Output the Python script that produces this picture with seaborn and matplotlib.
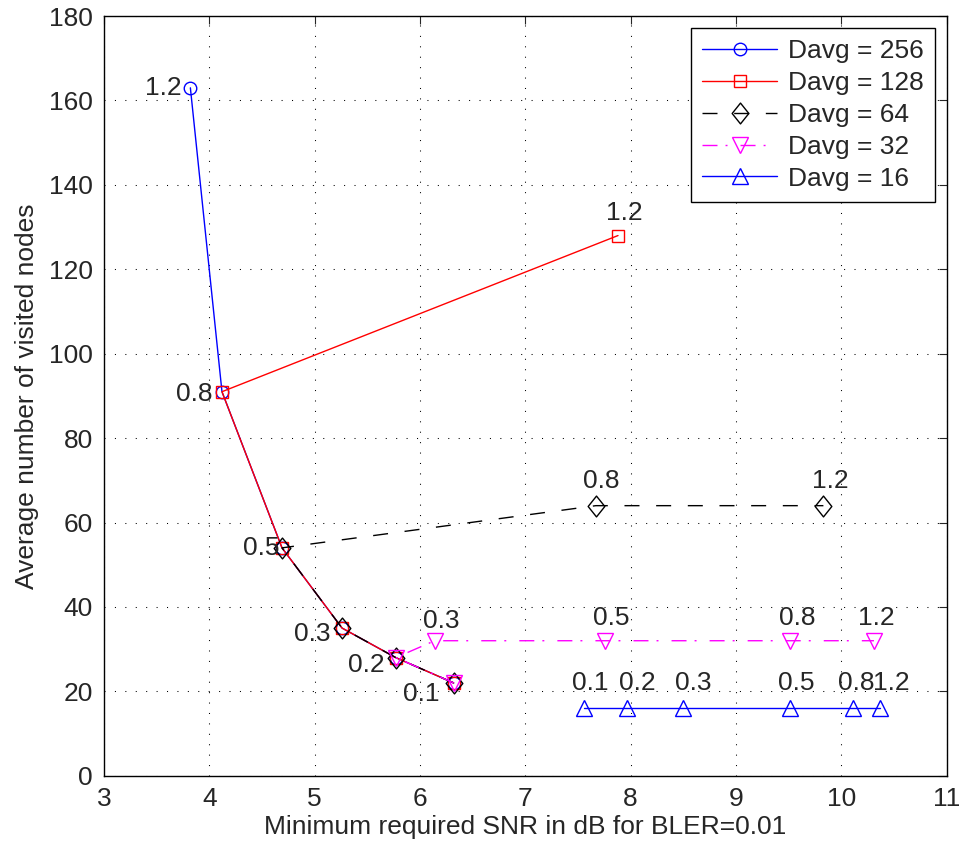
import matplotlib
matplotlib.use("Agg")
import matplotlib.pyplot as plt
import pandas as pd
import seaborn as sns
from matplotlib.path import Path

# ratio labels, shared by the points of every series (0.1 ... 1.2)
ratios = ["0.1", "0.2", "0.3", "0.5", "0.8", "1.2"]

# Minimum required SNR (dB) and average visited nodes per Davg
snr_256 = [6.32, 5.77, 5.26, 4.69, 4.12, 3.82]
nodes_256 = [22, 28, 35, 54, 91, 163]

snr_128 = [6.32, 5.77, 5.26, 4.69, 4.12, 7.88]
nodes_128 = [22, 28, 35, 54, 91, 128]

snr_64 = [6.32, 5.77, 5.26, 4.69, 7.67, 9.83]
nodes_64 = [22, 28, 35, 54, 64, 64]

snr_32 = [6.32, 5.77, 6.14, 7.76, 9.51, 10.31]
nodes_32 = [22, 28, 32, 32, 32, 32]

snr_16 = [7.56, 7.97, 8.50, 9.51, 10.11, 10.37]
nodes_16 = [16, 16, 16, 16, 16, 16]

series_names = ["Davg = 256", "Davg = 128", "Davg = 64", "Davg = 32", "Davg = 16"]

FS = 19

sns.set_style("white")
plt.rcParams['font.family'] = ['Liberation Sans', 'DejaVu Sans']
plt.rcParams['font.size'] = FS

# matlab-like wide diamond
diamond = Path([(0, 1), (0.8, 0), (0, -1), (-0.8, 0), (0, 1)],
               [Path.MOVETO, Path.LINETO, Path.LINETO, Path.LINETO, Path.CLOSEPOLY])

styles = [
    dict(color="#0000ff", marker="o", markersize=9, linestyle="-"),
    dict(color="#ff0000", marker="s", markersize=8.6, linestyle="-"),
    dict(color="#000000", marker=diamond, markersize=15, linestyle=(0, (10.8, 12))),
    dict(color="#ff00ff", marker="v", markersize=12, linestyle=(0, (10.8, 5.8, 1.4, 9.4))),
    dict(color="#0000ff", marker="^", markersize=12, linestyle="-"),
]

xs = [snr_256, snr_128, snr_64, snr_32, snr_16]
ys = [nodes_256, nodes_128, nodes_64, nodes_32, nodes_16]

fig = plt.figure(figsize=(9.63, 8.46), dpi=100)
ax = fig.add_axes([0.108, 0.083, 0.875, 0.898])

for name, x, y, st in zip(series_names, xs, ys, styles):
    df = pd.DataFrame({"snr": x, "nodes": y})
    sns.lineplot(data=df, x="snr", y="nodes", sort=False, estimator=None,
                 ax=ax, label=name, linewidth=1, markerfacecolor="none",
                 markeredgecolor=st["color"], markeredgewidth=1, **st)

# labels on the left of the main curve (from the Davg=256 points)
left_offsets = [(-10, -8), (-8, -5), (-8.6, -4.5), (-2, 0), (-6.5, -2), (-6.5, 0)]
for lab, x, y, off in zip(ratios, snr_256, nodes_256, left_offsets):
    ax.annotate(lab, (x, y), xytext=off, textcoords="offset points",
                ha="right", va="center", fontsize=FS)

# labels above the points that leave the main curve: (series, index, offset in pt)
above = [
    (1, 5, (-9, 16.5)),
    (2, 4, (-9.4, 18)), (2, 5, (-8, 18)),
    (3, 2, (-8.6, 14.5)), (3, 3, (-9, 16.5)), (3, 4, (-8, 16.5)), (3, 5, (-11.5, 16.5)),
    (4, 0, (-8.9, 18)), (4, 1, (-5.8, 18)), (4, 2, (-6, 18)),
    (4, 3, (-8.6, 18)), (4, 4, (-11, 18)), (4, 5, (-5.5, 18)),
]
for si, i, off in above:
    ax.annotate(ratios[i], (xs[si][i], ys[si][i]), xytext=off,
                textcoords="offset points", ha="left", va="center", fontsize=FS)

ax.set_xlim(3, 11)
ax.set_ylim(0, 180)
ax.set_xticks(range(3, 12))
ax.set_yticks(range(0, 181, 20))
ax.grid(True, color="black", linestyle=(0, (1, 9)), linewidth=0.75)
ax.tick_params(direction="in", length=6, width=0.8, top=True, right=True,
               labelsize=FS, pad=8)
for sp in ax.spines.values():
    sp.set_color("black")
    sp.set_linewidth(1)

ax.set_xlabel("Minimum required SNR in dB for BLER=0.01", fontsize=FS, labelpad=3)
ax.set_ylabel("Average number of visited nodes", fontsize=FS, labelpad=7)

leg = ax.legend(loc="upper right", fontsize=FS, frameon=True, fancybox=False,
                framealpha=1, edgecolor="black", handlelength=2.85,
                handletextpad=0.4, labelspacing=0.3, borderpad=0.42,
                borderaxespad=0.45)
leg.get_frame().set_linewidth(1)

fig.savefig("out.png", dpi=100)
